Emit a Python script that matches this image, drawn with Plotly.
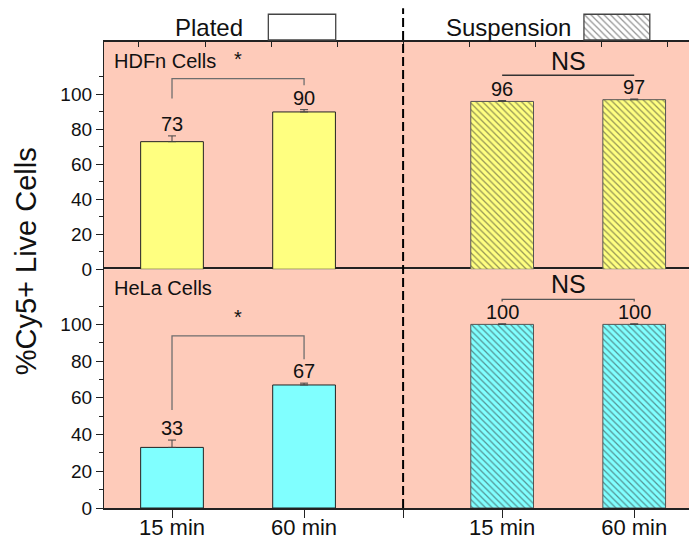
import plotly.graph_objects as go

# ---------------- data ----------------
categories = ["15 min", "60 min", "15 min", "60 min"]
plated_x = [1, 3]
susp_x = [6, 8]
divider_x = 4.5

hdfn_plated = [73, 90]
hdfn_plated_err = [3.3, 1.3]
hdfn_susp = [96, 97]
hdfn_susp_err = [0.5, 0.4]

hela_plated = [33, 67]
hela_plated_err = [4.0, 1.0]
hela_susp = [100, 100]
hela_susp_err = [0.3, 0.3]

y_ticks = [0, 20, 40, 60, 80, 100]
y_minor = [10, 30, 50, 70, 90, 110]

# significance brackets (x0, x1, top, left leg end, right leg end, label, label y)
hdfn_plated_sig = (1, 3, 109, 97.7, 105.3, "*", 120)
hdfn_susp_sig = (6, 8, 111, 111, 111, "NS", 119)
hela_plated_sig = (1, 3, 93.7, 53.4, 81, "*", 104)
hela_susp_sig = (6, 8, 113.6, 112.4, 112.4, "NS", 122)

YELLOW = "#FFFF80"
CYAN = "#80FFFF"
BG = "#FECBBA"
FONT = "Liberation Sans, Arial, sans-serif"

fig = go.Figure()

HATCH = dict(shape="\\", fillmode="overlay", fgcolor="#2a2a2a", size=4.6, solidity=0.28)

def add_panel(vals_p, err_p, vals_s, err_s, color, xa, ya):
    fig.add_trace(go.Bar(
        x=plated_x, y=vals_p, width=0.95, xaxis=xa, yaxis=ya,
        marker=dict(color=color, line=dict(color="#222", width=1)),
        error_y=dict(type="data", symmetric=False, array=err_p, arrayminus=[0]*len(err_p),
                     color="#444", thickness=1, width=4),
        showlegend=False, hoverinfo="skip"))
    fig.add_trace(go.Bar(
        x=susp_x, y=vals_s, width=0.95, xaxis=xa, yaxis=ya,
        marker=dict(color=color, line=dict(color="#555", width=1), pattern=HATCH),
        error_y=dict(type="data", symmetric=False, array=err_s, arrayminus=[0]*len(err_s),
                     color="#444", thickness=1, width=4),
        showlegend=False, hoverinfo="skip"))
    for xs, vs, es in ((plated_x, vals_p, err_p), (susp_x, vals_s, err_s)):
        for x, v, e in zip(xs, vs, es):
            fig.add_annotation(x=x, y=v + e, xref=xa, yref=ya, text=str(v),
                               showarrow=False, xanchor="center", yanchor="middle", yshift=12,
                               font=dict(family=FONT, size=20, color="#111"))

# top panel: HDFn (x2,y2); bottom panel: HeLa (x,y)
add_panel(hdfn_plated, hdfn_plated_err, hdfn_susp, hdfn_susp_err, YELLOW, "x2", "y2")
add_panel(hela_plated, hela_plated_err, hela_susp, hela_susp_err, CYAN, "x", "y")

def add_sig(sig, xa, ya, color, fsize):
    x0, x1, top, l_end, r_end, label, ly = sig
    fig.add_shape(type="path", xref=xa, yref=ya,
                  path=f"M {x0},{l_end} L {x0},{top} L {x1},{top} L {x1},{r_end}",
                  line=dict(color=color, width=1.3))
    fig.add_annotation(x=(x0 + x1) / 2, y=ly, xref=xa, yref=ya, text=label,
                       showarrow=False, xanchor="center", yanchor="middle",
                       font=dict(family=FONT, size=fsize, color="#111"))

add_sig(hdfn_plated_sig, "x2", "y2", "#6e6e6e", 20)
add_sig(hdfn_susp_sig, "x2", "y2", "#333", 25)
add_sig(hela_plated_sig, "x", "y", "#6e6e6e", 20)
add_sig(hela_susp_sig, "x", "y", "#555", 25)

# panel labels
fig.add_annotation(x=0.013, y=0.8805, xref="paper", yref="paper", text="HDFn Cells",
                   showarrow=False, xanchor="left", yanchor="middle",
                   font=dict(family=FONT, size=20, color="#111"))
fig.add_annotation(x=0.013, y=0.4325, xref="paper", yref="paper", text="HeLa Cells",
                   showarrow=False, xanchor="left", yanchor="middle",
                   font=dict(family=FONT, size=20, color="#111"))

# y-axis title
fig.add_annotation(x=-0.133, y=0.486, xref="paper", yref="paper", text="%Cy5+ Live Cells",
                   textangle=-90, showarrow=False, xanchor="center", yanchor="middle",
                   font=dict(family=FONT, size=29, color="#111"))

# legend (texts + boxes)
fig.add_annotation(x=0.1795, y=0.945, xref="paper", yref="paper", text="Plated",
                   showarrow=False, xanchor="center", yanchor="middle",
                   font=dict(family=FONT, size=24, color="#111"))
fig.add_annotation(x=0.6915, y=0.945, xref="paper", yref="paper", text="Suspension",
                   showarrow=False, xanchor="center", yanchor="middle",
                   font=dict(family=FONT, size=24, color="#111"))
fig.add_shape(type="rect", xref="paper", yref="paper", x0=0.2809, x1=0.3961,
              y0=0.9213, y1=0.9719, fillcolor="white", line=dict(color="#444", width=1.3),
              layer="above")
fig.add_trace(go.Bar(x=[0], y=[1], width=1, xaxis="x3", yaxis="y3",
                     marker=dict(color="white", line=dict(width=0), pattern=HATCH),
                     showlegend=False, hoverinfo="skip"))
fig.add_shape(type="rect", xref="paper", yref="paper", x0=0.8204, x1=0.9330,
              y0=0.9213, y1=0.9719, fillcolor="rgba(0,0,0,0)",
              line=dict(color="#444", width=1.3), layer="above")

# dashed divider
fig.add_shape(type="line", xref="x", yref="paper", x0=divider_x, x1=divider_x,
              y0=0, y1=0.984, line=dict(color="black", width=2, dash="9px,4px"),
              layer="above")

xr = [-0.03, 8.83]
tickfont = dict(family=FONT, size=19, color="#111")
yax = dict(range=[0, 130], tickvals=y_ticks, ticks="outside", ticklen=7, tickwidth=1.3,
           tickcolor="#222", showline=True, linecolor="#222", linewidth=1.3,
           showgrid=False, zeroline=False, tickfont=tickfont, automargin=False,
           minor=dict(tickvals=y_minor, ticks="outside", ticklen=4, tickcolor="#222",
                      tickwidth=1.3, showgrid=False))

fig.update_layout(
    width=689, height=543,
    margin=dict(l=104, r=0, t=0, b=35),
    paper_bgcolor="white", plot_bgcolor=BG,
    barmode="overlay",
    xaxis=dict(domain=[0, 1], range=xr, anchor="y", automargin=False,
               tickvals=plated_x + [divider_x] + susp_x,
               ticktext=categories[:2] + [""] + categories[2:],
               ticks="outside", ticklen=8, tickwidth=1.3, tickcolor="#222",
               ticklabelstandoff=-9,
               showline=True, linecolor="#222", linewidth=1.5, mirror=True,
               showgrid=False, zeroline=False,
               tickfont=dict(family=FONT, size=22, color="#111")),
    xaxis2=dict(domain=[0, 1], range=xr, anchor="y2", side="top", automargin=False,
                tickvals=[i + 0.5 for i in range(9)], showticklabels=False,
                ticks="inside", ticklen=5, tickwidth=1.3, tickcolor="#222",
                showline=True, linecolor="#222", linewidth=1.5,
                showgrid=False, zeroline=False),
    yaxis=dict(domain=[0, 0.4699], anchor="x", **yax),
    yaxis2=dict(domain=[0.4699, 0.9173], anchor="x2", **yax),
    xaxis3=dict(domain=[0.8204, 0.9330], range=[-0.5, 0.5], anchor="y3",
                visible=False, fixedrange=True),
    yaxis3=dict(domain=[0.9213, 0.9719], range=[0, 1], anchor="x3",
                visible=False, fixedrange=True),
)

fig.write_html("out.html")
